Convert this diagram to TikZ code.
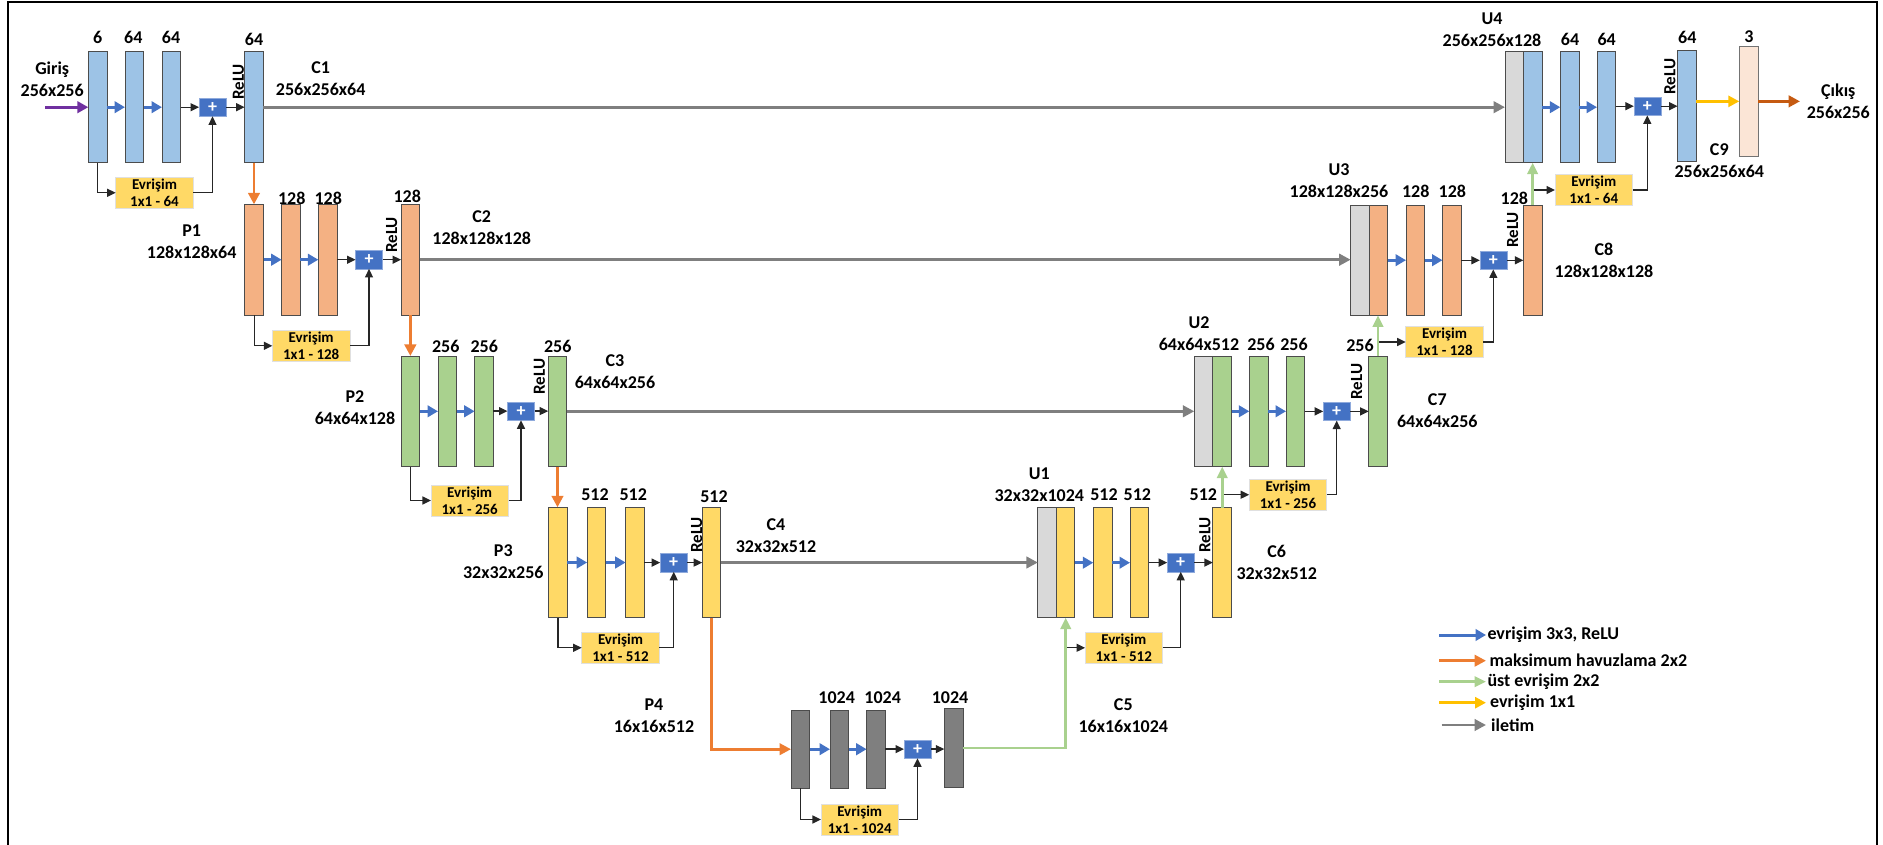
\documentclass[tikz,border=0pt]{standalone}
\usepackage{fontspec}
\setmainfont{Carlito}
\usetikzlibrary{arrows.meta}
\definecolor{cblue}{HTML}{9DC3E6}
\definecolor{corange}{HTML}{F4B183}
\definecolor{cgreen}{HTML}{A9D18E}
\definecolor{cyellow}{HTML}{FFD966}
\definecolor{cdark}{HTML}{7F7F7F}
\definecolor{clgray}{HTML}{D9D9D9}
\definecolor{cpeach}{HTML}{FBE5D6}
\definecolor{aplus}{HTML}{4472C4}
\definecolor{ablue}{HTML}{4472C4}
\definecolor{aorange}{HTML}{ED7D31}
\definecolor{agreen}{HTML}{A9D18E}
\definecolor{ayellow}{HTML}{FFC000}
\definecolor{agray}{HTML}{7F7F7F}
\definecolor{apurple}{HTML}{7030A0}
\definecolor{aout}{HTML}{C55A11}
\definecolor{askip}{HTML}{262626}
\tikzset{
  lay/.style={draw=black!70, line width=0.9pt, minimum width=18.7pt, inner sep=0pt, outer sep=0pt},
  plusbox/.style={fill=aplus, draw=aplus!60, line width=0.6pt, minimum width=27pt, minimum height=18.4pt, inner sep=0pt, outer sep=0pt, text=white, font=\fontsize{18}{18}\selectfont\bfseries},
  convbox/.style={fill=cyellow, draw=black!12, line width=0.8pt, minimum width=77.6pt, minimum height=31pt, inner sep=0pt, outer sep=0pt, align=center, font=\fontsize{15}{17.3}\selectfont\bfseries},
  num/.style={font=\fontsize{18}{18}\selectfont\bfseries, inner sep=0pt},
  lbl/.style={font=\fontsize{18}{22}\selectfont\bfseries, align=center, inner sep=0pt},
  relu/.style={font=\fontsize{17}{17}\selectfont\bfseries, rotate=90, inner sep=0pt},
  legtext/.style={font=\fontsize{18}{18}\selectfont\bfseries, inner sep=0pt, anchor=west},
  arrblue/.style={draw=ablue, line width=3pt, -{Triangle[length=10.5pt,width=11.5pt]}},
  arrorange/.style={draw=aorange, line width=2.7pt, -{Triangle[length=11.5pt,width=11.5pt]}},
  arrgreen/.style={draw=agreen, line width=2.6pt, -{Triangle[length=11.5pt,width=10.5pt]}},
  arryellow/.style={draw=ayellow, line width=3pt, -{Triangle[length=11pt,width=11pt]}},
  arrgray/.style={draw=agray, line width=2.8pt, -{Triangle[length=11.5pt,width=11.5pt]}},
  arrpurple/.style={draw=apurple, line width=3pt, -{Triangle[length=11pt,width=11.5pt]}},
  arrout/.style={draw=aout, line width=3.2pt, -{Triangle[length=11.5pt,width=11.5pt]}},
  arrblack/.style={draw=askip, line width=1.3pt, -{Triangle[length=8.5pt,width=8pt]}},
}
\begin{document}
\begin{tikzpicture}[x=1pt,y=-1pt]
\useasboundingbox (0,0) rectangle (1883,845);
\draw[line width=2pt] (8,845) -- (8,2) -- (1877,2) -- (1877,845);

% ---------------- Encoder level 1 ----------------
\node[lay, fill=cblue, minimum height=111pt] (e1a) at (97.65,107.2) {};
\node[lay, fill=cblue, minimum height=111pt] (e1b) at (134.35,107.2) {};
\node[lay, fill=cblue, minimum height=111pt] (e1c) at (171.35,107.2) {};
\node[plusbox] (e1p) at (212.5,107.2) {+};
\node[lay, fill=cblue, minimum height=111pt] (e1d) at (254,107.2) {};
\node[convbox] (e1e) at (154.5,192.8) {Evrişim\\1x1 - 64};
% ---------------- Encoder level 2 ----------------
\node[lay, fill=corange, minimum height=110.7pt] (e2a) at (254.2,259.7) {};
\node[lay, fill=corange, minimum height=110.7pt] (e2b) at (291,259.7) {};
\node[lay, fill=corange, minimum height=110.7pt] (e2c) at (327.7,259.7) {};
\node[plusbox] (e2p) at (369,259.7) {+};
\node[lay, fill=corange, minimum height=110.7pt] (e2d) at (410.35,259.7) {};
\node[convbox] (e2e) at (311.2,345.8) {Evrişim\\1x1 - 128};
% ---------------- Encoder level 3 ----------------
\node[lay, fill=cgreen, minimum height=110.7pt] (e3a) at (410.35,411.3) {};
\node[lay, fill=cgreen, minimum height=110.7pt] (e3b) at (447.35,411.3) {};
\node[lay, fill=cgreen, minimum height=110.7pt] (e3c) at (484,411.3) {};
\node[plusbox] (e3p) at (521,411.1) {+};
\node[lay, fill=cgreen, minimum height=110.7pt] (e3d) at (557.5,411.3) {};
\node[convbox] (e3e) at (469.7,500.5) {Evrişim\\1x1 - 256};
% ---------------- Encoder level 4 ----------------
\node[lay, fill=cyellow, minimum height=110.4pt] (e4a) at (557.85,562.5) {};
\node[lay, fill=cyellow, minimum height=110.4pt] (e4b) at (596.5,562.5) {};
\node[lay, fill=cyellow, minimum height=110.4pt] (e4c) at (635,562.5) {};
\node[plusbox] (e4p) at (673.7,562.6) {+};
\node[lay, fill=cyellow, minimum height=110.4pt] (e4d) at (711.5,562.5) {};
\node[convbox] (e4e) at (620.5,647.8) {Evrişim\\1x1 - 512};
% ---------------- Bottleneck ----------------
\node[lay, fill=cdark, minimum height=78.3pt] (e5a) at (800.35,749.2) {};
\node[lay, fill=cdark, minimum height=78.3pt] (e5b) at (839.35,749.2) {};
\node[lay, fill=cdark, minimum height=78.3pt] (e5c) at (876,749.2) {};
\node[plusbox] (e5p) at (917.5,749.1) {+};
\node[lay, fill=cdark, minimum height=79pt] (e5d) at (953.65,747.8) {};
\node[convbox] (e5e) at (859.7,819.5) {Evrişim\\1x1 - 1024};
% ---------------- Decoder U1 ----------------
\node[lay, fill=clgray, minimum height=110pt] (d1g) at (1047.2,562.7) {};
\node[lay, fill=cyellow, minimum height=110pt, minimum width=18pt] (d1a) at (1065.7,562.7) {};
\node[lay, fill=cyellow, minimum height=110pt] (d1b) at (1102.65,562.7) {};
\node[lay, fill=cyellow, minimum height=110pt] (d1c) at (1139.35,562.7) {};
\node[plusbox] (d1p) at (1180.7,562.6) {+};
\node[lay, fill=cyellow, minimum height=110pt] (d1d) at (1222.2,562.7) {};
\node[convbox] (d1e) at (1123.8,647.8) {Evrişim\\1x1 - 512};
% ---------------- Decoder U2 ----------------
\node[lay, fill=clgray, minimum height=110.7pt] (d2g) at (1203.65,411.3) {};
\node[lay, fill=cgreen, minimum height=110.7pt] (d2a) at (1222.15,411.3) {};
\node[lay, fill=cgreen, minimum height=110.7pt] (d2b) at (1258.65,411.3) {};
\node[lay, fill=cgreen, minimum height=110.7pt] (d2c) at (1295.35,411.3) {};
\node[plusbox] (d2p) at (1336.7,411.4) {+};
\node[lay, fill=cgreen, minimum height=110.7pt] (d2d) at (1378,411.3) {};
\node[convbox] (d2e) at (1288,494.7) {Evrişim\\1x1 - 256};
% ---------------- Decoder U3 ----------------
\node[lay, fill=clgray, minimum height=110.3pt] (d3g) at (1360,260.2) {};
\node[lay, fill=corange, minimum height=110.3pt] (d3a) at (1378.5,260.2) {};
\node[lay, fill=corange, minimum height=110.3pt] (d3b) at (1415.35,260.2) {};
\node[lay, fill=corange, minimum height=110.3pt] (d3c) at (1451.85,260.2) {};
\node[plusbox] (d3p) at (1493.3,260.3) {+};
\node[lay, fill=corange, minimum height=110.3pt] (d3d) at (1532.65,260.2) {};
\node[convbox] (d3e) at (1444.5,342) {Evrişim\\1x1 - 128};
% ---------------- Decoder U4 ----------------
\node[lay, fill=clgray, minimum height=111pt] (d4g) at (1514.35,107.2) {};
\node[lay, fill=cblue, minimum height=111pt] (d4a) at (1532.85,107.2) {};
\node[lay, fill=cblue, minimum height=111pt] (d4b) at (1569.65,107.2) {};
\node[lay, fill=cblue, minimum height=111pt] (d4c) at (1606.35,107.2) {};
\node[plusbox] (d4p) at (1647.3,106.2) {+};
\node[lay, fill=cblue, minimum height=111pt] (d4d) at (1687,105.5) {};
\node[convbox] (d4e) at (1593.8,190) {Evrişim\\1x1 - 64};
\node[lay, fill=cpeach, draw=black!55, minimum height=110.7pt] (out) at (1748.65,101.35) {};

% ---------------- channel numbers ----------------
\node[num] (n1a) at (97.7,37.3) {6};
\node[num] (n1b) at (133.3,37.3) {64};
\node[num] (n1c) at (171,37.3) {64};
\node[num] (n1d) at (254,39.3) {64};
\node[num] (n2b) at (291.7,198.3) {128};
\node[num] (n2c) at (328.3,198.3) {128};
\node[num] (n2d) at (407.3,196.7) {128};
\node[num] (n3b) at (445.7,346) {256};
\node[num] (n3c) at (484.3,346) {256};
\node[num] (n3d) at (557.7,346) {256};
\node[num] (n4b) at (595,495) {512};
\node[num] (n4c) at (633.3,495) {512};
\node[num] (n4d) at (714,497) {512};
\node[num] (n5b) at (836.7,697.7) {1024};
\node[num] (n5c) at (882.7,697.7) {1024};
\node[num] (n5d) at (950,697.7) {1024};
\node[num] (m1b) at (1104,495) {512};
\node[num] (m1c) at (1137.3,495) {512};
\node[num] (m1d) at (1203.3,495) {512};
\node[num] (m2b) at (1261,344) {256};
\node[num] (m2c) at (1294,344) {256};
\node[num] (m2d) at (1360,345.7) {256};
\node[num] (m3b) at (1415.7,191.7) {128};
\node[num] (m3c) at (1452.3,191.7) {128};
\node[num] (m3d) at (1514.3,198.3) {128};
\node[num] (m4b) at (1570,39.3) {64};
\node[num] (m4c) at (1606.7,39.3) {64};
\node[num] (m4d) at (1687.3,37.3) {64};
\node[num] (mout) at (1749,36.7) {3};

% ---------------- names ----------------
\node[lbl] (tin) at (52.2,79.5) {Giriş\\256x256};
\node[lbl] (tc1) at (320.7,78.5) {C1\\256x256x64};
\node[lbl] (tp1) at (191.7,242) {P1\\128x128x64};
\node[lbl] (tc2) at (481.7,227.2) {C2\\128x128x128};
\node[lbl] (tp2) at (355,407.8) {P2\\64x64x128};
\node[lbl] (tc3) at (615,371.7) {C3\\64x64x256};
\node[lbl] (tp3) at (503.3,562) {P3\\32x32x256};
\node[lbl] (tc4) at (776,535.3) {C4\\32x32x512};
\node[lbl] (tp4) at (654,715.3) {P4\\16x16x512};
\node[lbl] (tc5) at (1123.3,715.2) {C5\\16x16x1024};
\node[lbl] (tu1) at (1039.3,485) {U1\\32x32x1024};
\node[lbl] (tc6) at (1276.7,562.9) {C6\\32x32x512};
\node[lbl] (tu2) at (1199,333.8) {U2\\64x64x512};
\node[lbl] (tc7) at (1437.3,410.9) {C7\\64x64x256};
\node[lbl] (tu3) at (1339,180.9) {U3\\128x128x256};
\node[lbl] (tc8) at (1604,260.2) {C8\\128x128x128};
\node[lbl] (tu4) at (1492,30) {U4\\256x256x128};
\node[lbl] (tc9) at (1719.3,160.3) {C9\\256x256x64};
\node[lbl] (tout) at (1838.3,101.7) {Çıkış\\256x256};

% ---------------- ReLU ----------------
\node[relu] (r1) at (238.3,82) {ReLU};
\node[relu] (r2) at (391.7,235) {ReLU};
\node[relu] (r3) at (539.3,376.7) {ReLU};
\node[relu] (r4) at (696.7,535) {ReLU};
\node[relu] (r6) at (1205,535) {ReLU};
\node[relu] (r7) at (1356.7,381.7) {ReLU};
\node[relu] (r8) at (1512.7,230) {ReLU};
\node[relu] (r9) at (1670,76.7) {ReLU};

% ---------------- transfer (gray) ----------------
\draw[arrgray] (e1d.east) -- (e1d.east -| d4g.west);
\draw[arrgray] (e2d.east) -- (e2d.east -| d3g.west);
\draw[arrgray] (e3d.east) -- (e3d.east -| d2g.west);
\draw[arrgray] (e4d.east) -- (e4d.east -| d1g.west);

% ---------------- blocks ----------------
\foreach \l in {e1,e2,e3,e4,e5,d1,d2,d3,d4}{
  \draw[arrblue] (\l a.east) -- (\l b.west);
  \draw[arrblue] (\l b.east) -- (\l c.west);
  \draw[arrblack] (\l c.east |- \l p.west) -- (\l p.west);
  \draw[arrblack] (\l p.east) -- (\l p.east -| \l d.west);
  \draw[arrblack] (\l e.east) -| (\l p.south);
}
\foreach \l in {e1,e2,e3,e4,e5}{
  \draw[arrblack] (\l a.south) |- (\l e.west);
}
\draw[arrblack] (d1a.south |- d1e.west) -- (d1e.west);
\draw[arrblack] (d1d.north |- d2e.west) -- (d2e.west);
\draw[arrblack] (d2d.north |- d3e.west) -- (d3e.west);
\draw[arrblack] (d3d.north |- d4e.west) -- (d4e.west);

% ---------------- pooling (orange) ----------------
\draw[arrorange] (e1d.south) -- (e1d.south |- e2a.north);
\draw[arrorange] (e2d.south) -- (e2d.south |- e3a.north);
\draw[arrorange] (e3d.south) -- (e3d.south |- e4a.north);
\draw[arrorange] (e4d.south) |- (e5a.west);

% ---------------- up-convolution (green) ----------------
\draw[arrgreen] (e5d.east) -| (d1a.south);
\draw[arrgreen] (d1d.north) -- (d1d.north |- d2a.south);
\draw[arrgreen] (d2d.north) -- (d2d.north |- d3a.south);
\draw[arrgreen] (d3d.north) -- (d3d.north |- d4a.south);

% ---------------- input / output ----------------
\coordinate (inS) at (45,107.2);
\draw[arrpurple] (inS) -- (e1a.west);
\draw[arryellow] (d4d.east |- out.west) -- (out.west);
\coordinate (outE) at (1800,101.35);
\draw[arrout] (out.east) -- (outE);

% ---------------- legend ----------------
\coordinate (lg1s) at (1439.3,635);   \coordinate (lg1e) at (1486,635);
\coordinate (lg2s) at (1439.3,660.7); \coordinate (lg2e) at (1486,660.7);
\coordinate (lg3s) at (1439.3,681.7); \coordinate (lg3e) at (1486,681.7);
\coordinate (lg4s) at (1439.3,702.7); \coordinate (lg4e) at (1486,702.7);
\coordinate (lg5s) at (1441.7,725);   \coordinate (lg5e) at (1486,725);
\draw[arrblue] (lg1s) -- (lg1e);
\draw[arrorange] (lg2s) -- (lg2e);
\draw[arrgreen] (lg3s) -- (lg3e);
\draw[arryellow] (lg4s) -- (lg4e);
\draw[arrgray] (lg5s) -- (lg5e);
\node[legtext] (lg1) at (1487.3,635) {evrişim 3x3, ReLU};
\node[legtext] (lg2) at (1489.3,660.7) {maksimum havuzlama 2x2};
\node[legtext] (lg3) at (1487.3,681.7) {üst evrişim 2x2};
\node[legtext] (lg4) at (1490,702.7) {evrişim 1x1};
\node[legtext] (lg5) at (1491,725) {iletim};
\end{tikzpicture}
\end{document}
